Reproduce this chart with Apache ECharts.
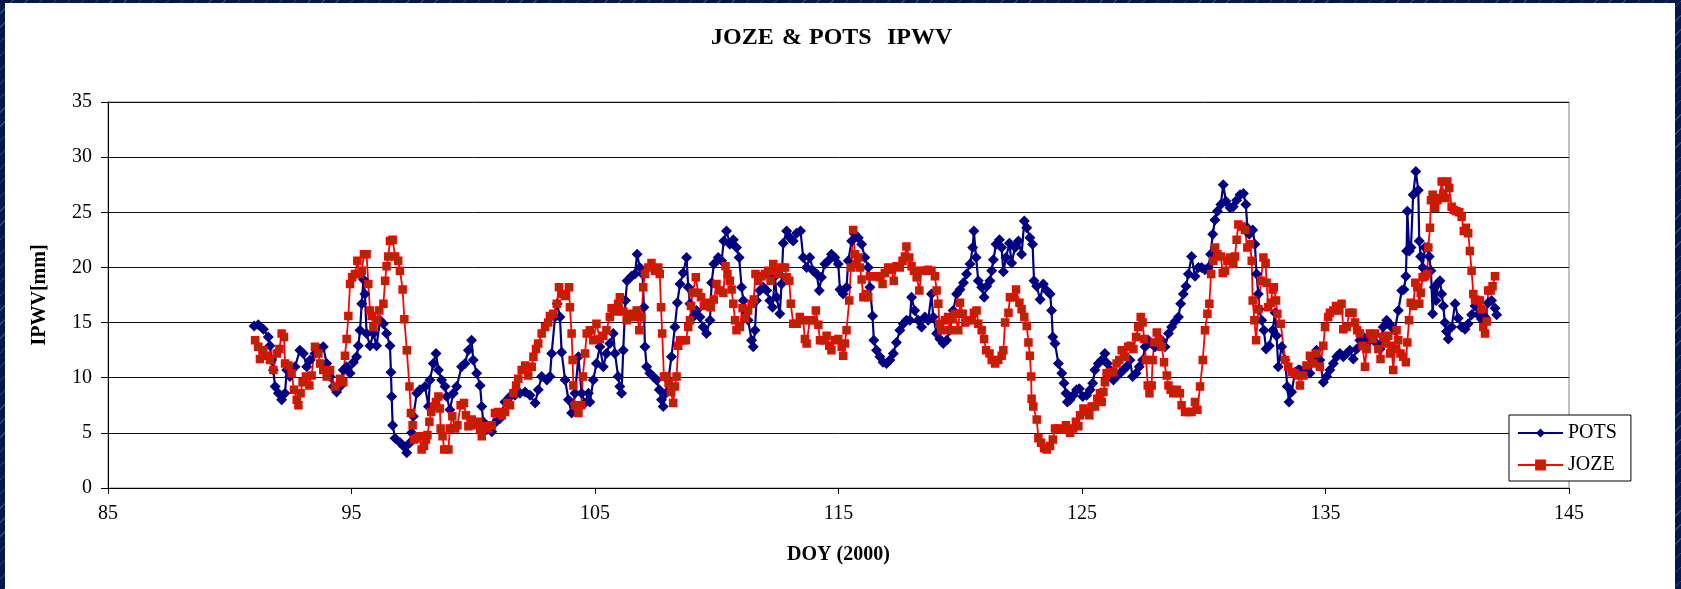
<!DOCTYPE html>
<html>
<head>
<meta charset="utf-8">
<script src="https://cdn.jsdelivr.net/npm/echarts@6/dist/echarts.min.js"></script>
<style>
  html, body { margin: 0; padding: 0; }
  body {
    width: 1681px; height: 589px; overflow: hidden; position: relative;
    background-color: #03194a;
    background-image: repeating-linear-gradient(135deg, #03194a 0px, #03194a 9px, #2b4678 9px, #2b4678 10px);
  }
  #chart { position: absolute; left: 5px; top: 3px; width: 1670px; height: 586px; background: #ffffff; }
</style>
</head>
<body>
<div id="chart"></div>
<script>
// ---- Data (DOY, IPWV mm) ----
const potsDoy = [
  91.0,91.17,91.38,91.58,91.65,91.72,91.79,91.86,92.0,92.13,92.27,92.34,92.47,92.68,92.88,93.02,93.16,93.3,93.5,93.71,93.84,93.98,94.12,94.25,94.39,94.53,94.66,94.8,94.94,95.08,95.21,95.28,95.35,95.42,95.49,95.55,95.62,95.76,95.9,96.03,96.17,96.31,96.44,96.58,96.62,96.65,96.69,96.79,97.0,97.13,97.27,97.4,97.47,97.54,97.68,97.81,98.02,98.16,98.22,98.36,98.47,98.57,98.7,98.84,98.91,99.04,99.18,99.32,99.52,99.66,99.8,99.93,100.0,100.14,100.28,100.35,100.41,100.55,100.76,100.89,101.1,101.3,101.51,101.71,101.92,102.13,102.33,102.54,102.67,102.81,103.02,103.15,103.22,103.36,103.45,103.56,103.63,103.77,103.91,104.04,104.18,104.32,104.45,104.59,104.73,
  104.79,104.93,105.06,105.2,105.34,105.47,105.61,105.75,105.82,105.95,106.02,106.09,106.16,106.25,106.32,106.5,106.64,106.73,106.84,106.95,107.01,107.05,107.12,107.25,107.39,107.53,107.64,107.73,107.8,107.91,108.01,108.14,108.28,108.38,108.49,108.62,108.76,108.83,108.9,109.03,109.17,109.31,109.44,109.58,109.72,109.79,109.88,110.06,110.2,110.29,110.4,110.54,110.68,110.81,110.92,111.02,111.09,111.2,111.29,111.43,111.5,111.57,111.63,111.77,111.91,112.05,112.18,112.29,112.39,112.46,112.59,112.66,112.73,112.87,113.0,113.14,113.28,113.44,113.55,113.69,113.82,113.96,114.1,114.21,114.3,114.44,114.58,114.71,114.85,114.99,115.06,115.19,115.33,115.4,115.54,115.67,115.81,115.95,116.08,116.22,116.29,116.4,116.45,116.56,116.7,116.83,116.97,117.11,117.25,117.38,117.52,117.66,117.79,117.93,118.0,118.13,118.27,118.41,118.55,118.68,118.82,118.89,119.03,119.16,119.3,119.44,119.57,119.71,119.85,
  119.99,120.13,120.26,120.4,120.51,120.56,120.65,120.74,120.88,120.98,121.09,121.22,121.29,121.36,121.47,121.61,121.7,121.77,121.88,122.02,122.11,122.25,122.39,122.52,122.63,122.73,122.86,122.97,123.03,123.14,123.28,123.41,123.55,123.69,123.75,123.8,123.89,124.03,124.17,124.26,124.34,124.4,124.51,124.64,124.78,124.89,125.03,125.19,125.33,125.44,125.53,125.67,125.81,125.94,126.04,126.15,126.29,126.42,126.56,126.7,126.83,126.97,127.08,127.22,127.35,127.49,127.59,127.72,127.86,128.0,128.13,128.27,128.41,128.55,128.68,128.82,128.96,129.05,129.16,129.27,129.37,129.5,129.64,129.78,129.91,130.05,130.19,130.28,130.37,130.46,130.56,130.7,130.8,130.91,131.08,131.21,131.35,131.49,131.63,131.73,131.79,131.87,132.01,132.1,132.17,132.24,132.28,132.38,132.47,132.56,132.69,132.83,132.93,132.99,133.06,133.2,133.34,133.43,133.5,133.61,133.75,133.88,
  133.95,134.16,134.36,134.5,134.63,134.77,134.91,135.05,135.18,135.32,135.46,135.59,135.73,135.87,136.0,136.14,136.28,136.41,136.55,136.69,136.82,136.96,137.1,137.24,137.37,137.51,137.62,137.71,137.85,137.99,138.13,138.22,138.3,138.33,138.36,138.44,138.51,138.6,138.71,138.81,138.85,138.91,138.99,139.08,139.18,139.26,139.33,139.4,139.47,139.54,139.63,139.7,139.77,139.84,139.9,139.97,140.04,140.18,140.32,140.45,140.59,140.73,140.86,141.0,141.14,141.27,141.41,141.55,141.68,141.82,141.96,142.03
];
const potsVal = [
  14.7,14.8,14.4,13.7,12.9,11.6,10.7,9.2,8.6,8.0,8.6,10.7,10.1,11.0,12.5,12.2,11.0,11.6,12.2,12.6,12.8,11.3,10.1,9.2,8.7,9.2,10.7,11.0,10.4,11.4,11.9,12.9,14.3,16.7,18.9,17.6,14.0,12.9,14.0,12.9,15.2,14.9,14.0,12.9,10.5,8.3,5.7,4.5,4.1,3.8,3.2,4.1,5.0,6.5,8.6,8.9,9.2,7.4,9.8,11.3,12.2,10.7,9.8,9.2,8.3,7.1,8.6,9.2,11.0,11.3,12.5,13.4,11.6,10.4,9.3,7.4,6.0,5.3,5.1,5.9,6.3,7.8,8.3,8.4,8.6,8.7,8.4,7.7,8.9,10.1,9.8,10.1,12.2,15.5,16.7,15.5,12.3,9.8,8.0,6.8,8.6,11.9,8.6,7.7,8.6,
  7.8,9.8,11.3,12.8,11.0,12.2,13.1,14.0,12.2,10.1,9.2,8.6,12.5,17.0,18.8,19.2,19.4,21.2,20.0,19.4,16.4,12.8,11.0,10.4,10.1,9.8,8.9,8.0,7.4,8.6,9.8,11.9,14.6,16.8,18.5,19.5,20.9,18.2,16.7,15.5,16.1,15.5,14.6,14.0,15.2,18.6,20.3,20.9,20.6,22.4,23.3,22.1,22.5,21.8,20.9,18.2,17.0,15.8,15.2,13.4,12.8,14.3,17.0,17.9,18.2,17.9,17.0,16.4,19.2,17.3,15.8,18.5,22.2,23.3,22.7,22.4,23.1,23.3,20.9,20.0,20.9,19.7,19.4,17.9,19.1,20.3,20.6,21.2,20.9,20.3,18.0,17.6,18.2,20.6,22.4,23.0,22.7,22.1,20.9,20.0,18.2,15.6,13.4,12.5,11.9,11.4,11.3,11.6,12.2,13.2,14.3,14.9,15.2,15.2,17.3,16.1,15.2,14.6,15.5,15.2,17.6,15.5,14.0,13.5,13.1,13.4,14.3,16.1,17.6,
  18.0,18.6,19.4,20.3,21.8,23.3,20.9,18.8,18.2,17.3,18.3,18.8,19.7,20.7,22.1,22.5,21.8,19.6,20.9,22.2,20.4,21.8,22.4,21.2,24.2,23.6,22.7,22.1,18.8,18.3,17.1,18.5,17.9,17.6,16.1,13.7,13.1,11.3,10.4,9.5,8.6,7.8,8.0,8.4,8.9,9.0,8.3,8.4,8.9,9.5,10.7,11.3,11.6,12.2,11.3,10.7,9.8,10.1,10.4,10.7,11.0,11.6,10.1,10.4,11.0,11.6,12.8,13.4,13.1,12.8,13.1,13.4,12.8,14.0,14.6,15.1,15.5,16.7,17.6,18.3,19.4,21.0,19.2,20.0,20.0,19.8,20.0,21.2,23.0,24.3,25.1,25.7,27.5,26.0,25.4,25.5,26.1,26.6,26.7,25.7,23.6,23.0,23.4,22.1,19.4,17.6,16.2,15.2,14.3,12.6,12.9,14.3,15.9,13.8,11.0,12.8,11.6,9.2,7.8,8.7,10.5,10.7,
  10.7,10.8,10.4,11.6,12.5,11.6,9.6,10.1,10.7,11.3,11.9,12.2,11.9,12.2,12.5,11.7,12.6,13.4,13.7,13.5,13.4,13.7,13.1,12.6,14.6,15.2,14.9,14.6,14.3,16.1,17.9,18.0,19.2,21.5,25.1,21.5,21.8,26.6,28.7,27.0,22.4,21.0,20.0,21.8,21.8,21.0,19.7,15.8,18.2,17.0,18.6,18.8,17.6,16.5,15.0,14.2,13.5,14.6,16.7,15.4,14.6,14.4,14.9,15.7,16.5,15.7,15.3,15.5,16.8,17.0,16.3,15.7
];
const jozeDoy = [
  91.04,91.17,91.24,91.38,91.52,91.65,91.79,91.93,92.04,92.13,92.23,92.27,92.41,92.54,92.64,92.75,92.82,92.91,92.99,93.13,93.27,93.36,93.5,93.64,93.71,93.84,93.98,94.12,94.32,94.53,94.66,94.73,94.8,94.87,94.94,95.03,95.14,95.24,95.32,95.42,95.51,95.62,95.69,95.76,95.83,95.9,96.03,96.14,96.31,96.38,96.44,96.51,96.58,96.69,96.79,96.92,96.99,97.1,97.17,97.27,97.38,97.44,97.51,97.57,97.68,97.79,97.88,97.98,98.06,98.12,98.2,98.27,98.39,98.47,98.57,98.63,98.66,98.74,98.81,98.98,99.04,99.14,99.25,99.35,99.48,99.62,99.7,99.8,99.94,100.07,100.21,100.28,100.35,100.48,100.62,100.76,100.89,101.03,101.17,101.3,101.4,101.51,101.65,101.76,101.85,101.99,102.13,102.26,102.4,102.47,102.58,102.67,102.81,102.95,103.08,103.15,103.29,103.43,103.52,103.63,103.77,103.93,103.97,104.04,104.08,104.11,104.18,104.32,104.43,104.5,104.59,104.66,
  104.79,104.93,105.06,105.2,105.34,105.47,105.61,105.68,105.82,105.95,106.02,106.16,106.3,106.43,106.57,106.71,106.82,106.91,106.98,107.05,107.19,107.32,107.46,107.6,107.66,107.71,107.76,107.83,107.94,108.02,108.12,108.21,108.28,108.35,108.42,108.49,108.62,108.73,108.83,108.9,108.94,109.01,109.14,109.24,109.35,109.47,109.61,109.75,109.88,109.99,110.13,110.27,110.36,110.44,110.54,110.61,110.68,110.75,110.81,110.95,111.06,111.16,111.29,111.43,111.52,111.59,111.7,111.84,111.98,112.11,112.21,112.32,112.43,112.52,112.66,112.8,112.87,112.98,113.04,113.14,113.28,113.41,113.55,113.62,113.69,113.82,113.96,114.07,114.17,114.24,114.37,114.51,114.62,114.71,114.85,114.99,115.13,115.19,115.26,115.33,115.44,115.51,115.6,115.67,115.74,115.81,115.88,115.95,116.02,116.12,116.22,116.29,116.43,116.56,116.7,116.81,116.9,117.04,117.18,117.27,117.38,117.52,117.63,117.73,117.79,117.9,118.0,118.1,118.21,118.32,118.41,118.55,118.68,118.82,118.96,119.03,119.1,119.14,119.23,119.37,119.5,119.57,119.64,119.78,119.92,
  119.99,120.1,120.2,120.33,120.47,120.56,120.67,120.74,120.88,120.98,121.06,121.2,121.29,121.43,121.56,121.7,121.77,121.84,121.98,122.04,122.18,122.29,122.43,122.52,122.63,122.73,122.8,122.86,122.91,122.93,123.0,123.14,123.21,123.32,123.44,123.55,123.69,123.8,123.89,124.03,124.17,124.34,124.51,124.64,124.75,124.85,124.92,125.06,125.16,125.3,125.4,125.53,125.63,125.74,125.81,125.88,125.94,126.01,126.15,126.29,126.42,126.53,126.63,126.77,126.9,127.0,127.11,127.22,127.31,127.41,127.49,127.55,127.63,127.7,127.77,127.86,127.9,127.97,128.07,128.18,128.27,128.37,128.48,128.55,128.64,128.75,128.89,129.02,129.09,129.23,129.37,129.5,129.64,129.74,129.85,129.96,130.05,130.15,130.23,130.3,130.39,130.46,130.56,130.7,130.78,130.87,130.97,131.08,131.21,131.28,131.35,131.42,131.56,131.69,131.79,131.9,131.97,132.01,132.08,132.15,132.24,132.35,132.45,132.54,132.58,132.65,132.75,132.83,132.88,132.97,133.02,133.16,133.34,133.47,133.61,133.75,133.88,
  133.95,134.09,134.22,134.36,134.5,134.63,134.77,134.91,134.98,135.11,135.18,135.32,135.43,135.57,135.66,135.73,135.87,135.98,136.11,136.21,136.3,136.41,136.52,136.62,136.69,136.82,136.93,137.03,137.17,137.26,137.37,137.48,137.58,137.65,137.71,137.78,137.85,137.92,137.99,138.08,138.19,138.3,138.36,138.43,138.5,138.6,138.69,138.77,138.85,138.91,138.99,139.08,139.18,139.22,139.29,139.33,139.4,139.5,139.59,139.7,139.77,139.84,139.93,140.0,140.08,140.18,140.27,140.38,140.49,140.59,140.68,140.77,140.86,140.93,141.0,141.07,141.14,141.23,141.34,141.41,141.48,141.55,141.62,141.68,141.78,141.86,141.96
];
const jozeVal = [
  13.4,12.8,11.7,12.5,12.0,11.6,10.7,12.2,12.6,14.0,13.7,11.3,11.1,10.4,8.9,8.0,7.5,8.6,9.6,10.1,9.3,10.2,12.8,12.2,11.3,10.7,10.1,10.7,9.2,9.9,9.6,12.0,13.5,15.6,18.5,19.1,19.4,20.6,19.4,19.7,21.2,21.2,18.5,16.1,15.6,14.6,15.2,16.1,16.7,18.8,20.1,21.0,22.4,22.5,21.0,20.6,19.7,18.0,15.3,12.5,9.2,6.8,5.7,4.4,4.5,4.7,3.5,3.8,4.4,4.8,6.0,6.9,7.4,7.8,8.3,7.2,5.4,4.7,3.5,3.5,5.4,6.5,5.4,5.7,7.5,7.7,6.6,5.6,6.2,5.7,6.0,5.3,4.7,5.6,5.4,5.7,6.8,6.9,6.6,6.9,7.7,7.5,8.6,9.3,9.9,10.7,11.1,10.2,11.0,11.9,12.6,13.1,14.0,14.6,15.0,15.6,15.8,16.7,18.2,17.6,17.4,18.2,16.4,14.0,11.6,9.3,7.5,6.8,7.5,10.1,12.2,14.0,
  14.3,13.4,14.9,13.5,13.8,14.3,15.5,16.3,16.0,16.7,17.3,16.0,15.2,15.8,15.5,16.1,14.3,15.5,18.2,19.4,20.0,20.4,19.7,20.0,19.4,16.4,14.0,10.1,10.1,9.5,8.7,7.7,9.2,10.1,12.9,13.4,13.4,13.4,14.6,15.2,16.5,17.7,19.1,17.7,17.3,16.5,16.8,16.4,17.1,18.5,17.9,17.7,20.1,19.4,18.8,18.0,16.7,15.2,14.3,14.6,16.3,15.4,16.1,16.7,17.1,19.4,18.8,19.2,19.4,19.7,18.8,20.3,19.7,19.4,20.0,20.0,19.1,18.8,16.7,14.9,14.9,15.5,15.2,13.5,13.1,15.2,15.2,16.1,14.8,13.4,13.4,13.8,12.9,12.5,13.4,13.5,12.8,12.0,13.1,14.3,17.0,20.0,23.4,21.2,20.3,20.9,20.0,18.9,17.3,17.6,17.3,19.2,19.2,19.2,19.1,18.5,19.5,20.0,19.8,18.8,20.1,20.0,20.6,21.0,21.9,20.9,20.1,19.7,19.1,17.9,19.7,19.7,19.8,19.7,19.2,17.9,16.7,14.9,14.3,15.2,15.5,14.3,15.3,15.8,14.3,
  16.8,15.8,15.0,15.2,15.2,15.9,16.1,14.9,14.3,13.5,12.5,12.2,11.6,11.3,11.6,12.0,12.5,15.0,15.9,17.3,17.3,18.0,16.8,16.2,15.5,14.7,13.2,12.0,10.1,8.1,7.4,6.2,4.5,4.1,3.6,3.5,3.8,4.4,5.4,5.4,5.3,5.7,5.0,5.4,6.0,5.6,6.6,7.2,6.9,6.6,7.4,7.4,8.1,8.6,7.8,8.7,9.6,10.4,10.5,10.5,11.3,11.6,12.5,11.9,12.8,12.9,12.6,13.7,14.6,15.5,15.0,13.5,11.6,9.3,8.6,9.3,11.6,13.2,14.1,13.4,12.8,11.4,10.2,9.3,8.9,8.6,8.9,8.6,7.5,6.9,6.9,6.9,7.8,7.1,9.2,11.6,14.3,15.8,16.7,19.4,20.6,21.8,21.2,21.0,19.5,19.7,20.6,20.9,20.3,21.0,22.5,23.9,23.7,23.4,21.8,22.1,20.6,17.0,15.2,13.4,16.2,18.8,20.9,20.4,18.6,16.4,16.8,18.0,18.2,17.0,15.8,14.9,11.6,11.0,10.5,10.4,10.2,
  9.3,10.2,11.1,12.0,11.3,12.2,11.0,12.9,14.6,15.5,15.9,16.1,16.5,16.1,16.7,14.4,14.6,15.9,15.9,15.0,14.3,14.0,12.9,11.0,12.6,14.0,13.5,14.0,12.6,11.7,13.7,13.1,13.8,12.2,12.9,10.7,12.6,14.3,13.4,12.2,11.9,11.4,13.2,15.2,16.8,16.5,18.6,18.2,16.7,17.7,19.1,19.2,19.4,21.8,23.6,26.1,26.6,25.4,26.1,26.3,27.8,26.7,26.3,27.8,27.2,25.5,25.2,25.1,25.0,24.6,23.3,23.6,23.1,21.5,19.7,17.6,17.1,17.0,17.0,16.2,14.6,14.0,15.1,17.9,17.9,18.3,19.2
];
const xTicks = { min: 85, max: 145, step: 10 };
const yTicks = { min: 0, max: 35, step: 5 };
const titleWords = ['JOZE', '&', 'POTS', 'IPWV'];

const pots = potsDoy.map((d, i) => [d, potsVal[i]]);
const joze = jozeDoy.map((d, i) => [d, jozeVal[i]]);

const serif = "'Liberation Serif', 'Times New Roman', serif";
// title words laid out with the wide spacing of the original
const titleX = [706, 777, 804, 882];
const titleGraphic = titleWords.map((w, i) => ({
  type: 'text', x: titleX[i], y: 35,
  style: { text: w, font: "bold 24px " + serif, fill: '#000', textAlign: 'left', textVerticalAlign: 'middle' }
}));

const chart = echarts.init(document.getElementById('chart'), null, { renderer: 'canvas' });
chart.setOption({
  animation: false,
  backgroundColor: '#ffffff',
  graphic: titleGraphic,
  grid: { left: 103, right: 106, top: 99, bottom: 101, show: true, borderColor: '#808080', borderWidth: 1, backgroundColor: 'transparent' },
  legend: {
    orient: 'vertical', left: 1504, top: 412,
    data: ['POTS', 'JOZE'],
    backgroundColor: '#fff', borderColor: '#000', borderWidth: 1,
    padding: [8, 14, 6, 8], itemGap: 12, itemWidth: 45, itemHeight: 11,
    textStyle: { fontFamily: serif, fontSize: 20, color: '#000' }
  },
  xAxis: {
    type: 'value', min: xTicks.min, max: xTicks.max, interval: xTicks.step,
    name: 'DOY (2000)', nameLocation: 'middle', nameGap: 57,
    nameTextStyle: { fontFamily: serif, fontSize: 20, fontWeight: 'bold', color: '#000' },
    axisLine: { show: true, lineStyle: { color: '#000', width: 1 } },
    axisTick: { show: true, inside: false, length: 6, lineStyle: { color: '#000' } },
    axisLabel: { fontFamily: serif, fontSize: 20, color: '#000', margin: 16 },
    splitLine: { show: false }
  },
  yAxis: {
    type: 'value', min: yTicks.min, max: yTicks.max, interval: yTicks.step,
    name: 'IPWV[mm]', nameLocation: 'middle', nameGap: 58, nameRotate: 90,
    nameTextStyle: { fontFamily: serif, fontSize: 20, fontWeight: 'bold', color: '#000' },
    axisLine: { show: true, lineStyle: { color: '#000', width: 1 } },
    axisTick: { show: true, inside: false, length: 7, lineStyle: { color: '#000' } },
    axisLabel: { fontFamily: serif, fontSize: 20, color: '#000', margin: 16 },
    splitLine: { show: true, lineStyle: { color: '#111', width: 1 } }
  },
  series: [
    {
      name: 'POTS', type: 'line', data: pots,
      symbol: 'diamond', symbolSize: 11,
      lineStyle: { color: '#000080', width: 2.2 },
      itemStyle: { color: '#000080' }
    },
    {
      name: 'JOZE', type: 'line', data: joze,
      symbol: 'rect', symbolSize: 7,
      lineStyle: { color: '#ff0000', width: 1.8 },
      itemStyle: { color: '#993300', borderColor: '#ff0000', borderWidth: 1.5 }
    }
  ]
});
</script>
</body>
</html>
